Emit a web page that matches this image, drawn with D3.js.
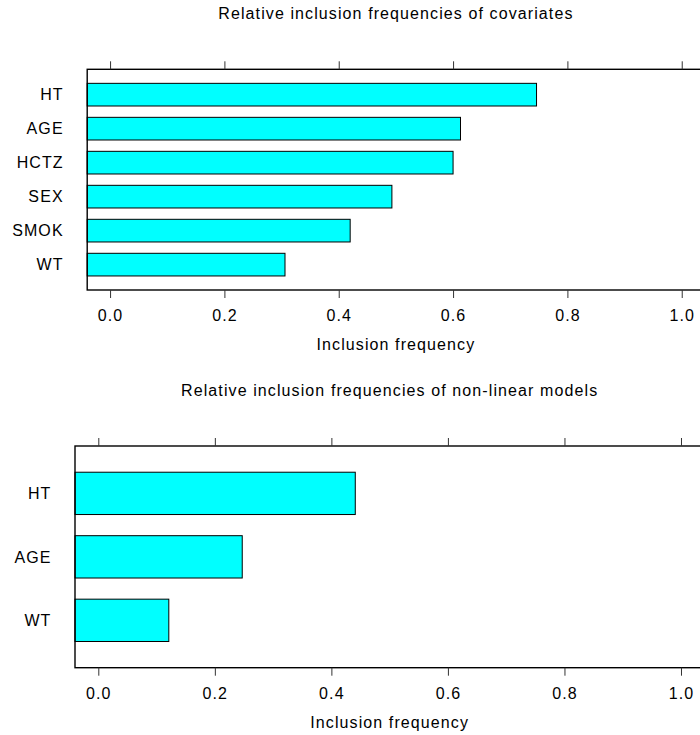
<!DOCTYPE html>
<html>
<head>
<meta charset="utf-8">
<script src="https://cdn.jsdelivr.net/npm/d3@7"></script>
<style>
  html, body { margin: 0; padding: 0; background: #fff; }
  svg { display: block; }
  text { font-family: "Liberation Sans", Arial, Helvetica, sans-serif; fill: #000; }
</style>
</head>
<body>
<script>
// ---- data ----
const covariates = ["HT", "AGE", "HCTZ", "SEX", "SMOK", "WT"];
const covariateFreq = [0.746, 0.613, 0.600, 0.493, 0.420, 0.306];
const nonlinVars = ["HT", "AGE", "WT"];
const nonlinFreq = [0.441, 0.247, 0.121];
const tickValues = [0, 0.2, 0.4, 0.6, 0.8, 1.0];
const tickLabels = ["0.0", "0.2", "0.4", "0.6", "0.8", "1.0"];
const titles = ["Relative inclusion frequencies of covariates",
                "Relative inclusion frequencies of non-linear models"];
const xLabel = "Inclusion frequency";
const xDomain = [-0.04, 1.04];

const W = 700, H = 735;
const svg = d3.select("body").append("svg").attr("width", W).attr("height", H);

const panels = [
  { cats: covariates, vals: covariateFreq, title: titles[0],
    left: 87.2, right: 704.6, top: 69.3, bottom: 290 },
  { cats: nonlinVars, vals: nonlinFreq, title: titles[1],
    left: 75, right: 704.3, top: 446, bottom: 667.7 }
];

const FS = 16;   // font size
const LS = 1.1;  // letter spacing

panels.forEach(p => {
  const x = d3.scaleLinear().domain(xDomain).range([p.left, p.right]);
  const y = d3.scaleBand().domain(p.cats).range([p.top, p.bottom])
    .paddingInner(1/3).paddingOuter(0.413);
  const g = svg.append("g");

  // bars
  g.selectAll("rect.bar").data(p.cats.map((c, i) => ({ c, v: p.vals[i] })))
    .join("rect").attr("class", "bar")
    .attr("x", x(xDomain[0]))
    .attr("y", d => y(d.c))
    .attr("width", d => x(d.v) - x(xDomain[0]))
    .attr("height", y.bandwidth())
    .attr("fill", "#00ffff")
    .attr("stroke", "#000")
    .attr("stroke-width", 1);

  // panel box
  g.append("rect")
    .attr("x", p.left).attr("y", p.top)
    .attr("width", p.right - p.left).attr("height", p.bottom - p.top)
    .attr("fill", "none").attr("stroke", "#000").attr("stroke-width", 1.4);

  // bottom axis
  const axB = g.append("g").attr("transform", `translate(0,${p.bottom})`)
    .call(d3.axisBottom(x).tickValues(tickValues)
      .tickFormat((d, i) => tickLabels[i]).tickSize(8).tickSizeOuter(0).tickPadding(11.6));
  axB.select(".domain").remove();
  axB.selectAll("line").attr("stroke", "#333").attr("stroke-width", 1);
  axB.selectAll("text").attr("font-size", FS).attr("fill", "#000")
    .style("letter-spacing", LS + "px")
    .attr("font-family", "'Liberation Sans', Arial, sans-serif");

  // top axis (ticks only)
  const axT = g.append("g").attr("transform", `translate(0,${p.top})`)
    .call(d3.axisTop(x).tickValues(tickValues).tickFormat("").tickSize(8).tickSizeOuter(0));
  axT.select(".domain").remove();
  axT.selectAll("line").attr("stroke", "#333").attr("stroke-width", 1);

  // category labels
  g.selectAll("text.cat").data(p.cats).join("text").attr("class", "cat")
    .attr("x", p.left - 23.5)
    .attr("y", d => y(d) + y.bandwidth() / 2)
    .attr("dy", "0.36em")
    .attr("text-anchor", "end")
    .attr("font-size", FS)
    .style("letter-spacing", LS + "px")
    .text(d => d);

  const cx = (p.left + p.right) / 2;
  // title
  g.append("text").attr("x", cx).attr("y", p.top - 50)
    .attr("text-anchor", "middle").attr("font-size", FS)
    .style("letter-spacing", LS + "px")
    .text(p.title);
  // x label
  g.append("text").attr("x", cx).attr("y", p.bottom + 60)
    .attr("text-anchor", "middle").attr("font-size", FS)
    .style("letter-spacing", LS + "px")
    .text(xLabel);
});
</script>
</body>
</html>
